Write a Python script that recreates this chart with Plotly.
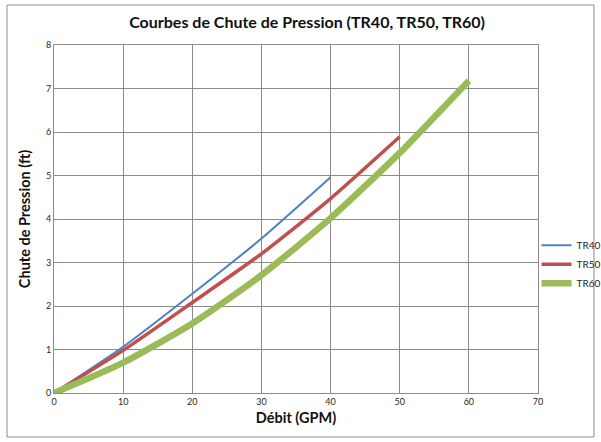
import plotly.graph_objects as go

# Flow rate (GPM) and pressure drop (ft) per model
debit_tr40 = [0, 10, 20, 30, 40]
chute_tr40 = [0, 1.06, 2.28, 3.55, 4.96]

debit_tr50 = [0, 10, 20, 30, 40, 50]
chute_tr50 = [0, 0.98, 2.08, 3.2, 4.47, 5.89]

debit_tr60 = [0, 10, 20, 30, 40, 50, 60]
chute_tr60 = [0, 0.70, 1.60, 2.71, 4.02, 5.52, 7.18]

x_ticks = [0, 10, 20, 30, 40, 50, 60, 70]
y_ticks = [0, 1, 2, 3, 4, 5, 6, 7, 8]

FONT = "Lato"

fig = go.Figure()
fig.add_trace(go.Scatter(x=debit_tr40, y=chute_tr40, mode="lines", name="TR40",
                         line=dict(color="#4F81BD", width=2, shape="spline", smoothing=0.6)))
fig.add_trace(go.Scatter(x=debit_tr50, y=chute_tr50, mode="lines", name="TR50",
                         line=dict(color="#C0504D", width=3.5, shape="spline", smoothing=0.6)))
fig.add_trace(go.Scatter(x=debit_tr60, y=chute_tr60, mode="lines", name="TR60",
                         line=dict(color="#9BBB59", width=6.5, shape="spline", smoothing=0.6)))

axis_common = dict(showgrid=True, gridcolor="#8C8C8C", gridwidth=1,
                   showline=True, linecolor="#8C8C8C", linewidth=1, mirror=True,
                   zeroline=False, ticks="", tickfont=dict(family=FONT, size=9, color="#262626"))

fig.update_layout(
    width=601, height=442,
    margin=dict(l=54, r=63, t=45, b=49, autoexpand=False),
    paper_bgcolor="white", plot_bgcolor="white",
    title=dict(text="<b>Courbes de Chute de Pression (TR40, TR50, TR60)</b>",
               font=dict(family=FONT, size=16, color="#111111"),
               x=0.511, xref="container", xanchor="center",
               y=0.95, yref="container", yanchor="middle"),
    xaxis=dict(range=[0, 70], tickvals=x_ticks,
               title=dict(text="<b>Débit (GPM)</b>", font=dict(family=FONT, size=14.5, color="#111111"),
                          standoff=7),
               **axis_common),
    yaxis=dict(range=[0, 8], tickvals=y_ticks,
               title=dict(text="<b>Chute de Pression (ft)</b>", font=dict(family=FONT, size=14.5, color="#111111"),
                          standoff=11),
               **axis_common),
    legend=dict(x=0.997, y=0.466, xanchor="left", yanchor="top",
                font=dict(family=FONT, size=10, color="#262626"),
                tracegroupgap=0, itemwidth=30, bgcolor="rgba(0,0,0,0)"),
    shapes=[dict(type="rect", xref="paper", yref="paper",
                 x0=-0.0971, x1=1.1157, y0=-0.1264, y1=1.1149,
                 line=dict(color="#8C8C8C", width=1), fillcolor="rgba(0,0,0,0)", layer="below")],
)

fig.write_html("out.html")
